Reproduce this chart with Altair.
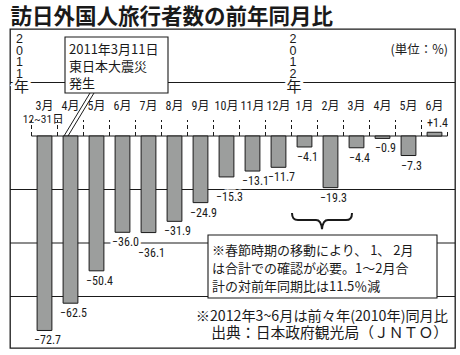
import altair as alt
import pandas as pd

# ---------------- data ----------------
title_text = "訪日外国人旅行者数の前年同月比"
months = ["3月", "4月", "5月", "6月", "7月", "8月", "9月", "10月", "11月", "12月",
          "1月", "2月", "3月", "4月", "5月", "6月"]
values = [-72.7, -62.5, -50.4, -36.0, -36.1, -31.9, -24.9, -15.3, -13.1, -11.7,
          -4.1, -19.3, -4.4, -0.9, -7.3, 1.4]
first_note = "12~31日"
grid_levels = [20, -20, -40, -60]
year_2011 = ["2", "0", "1", "1"]
year_2012 = ["2", "0", "1", "2"]
year_char = "年"
unit_text = "(単位：%)"
quake_lines = ["2011年3月11日", "東日本大震災", "発生"]
spring_lines = ["※春節時期の移動により、 1、 2月",
                "は合計での確認が必要。1〜2月合",
                "計の対前年同期比は11.5％減"]
foot_note = "※2012年3~6月は前々年(2010年)同月比"
source_note = "出典：日本政府観光局（ＪＮＴＯ）"

# ---------------- style ----------------
INK = "#1a1a1a"
BAR = "#9c9e9d"
CJK = "Noto Sans CJK JP"
NUM = "Liberation Sans Narrow, Roboto Condensed, Liberation Sans, Noto Sans CJK JP"
SANS = "Liberation Sans, Arial, sans-serif"
W, H = 445, 319
STEP = 26.0
X0 = 34.5
xs = alt.Scale(domain=[-X0 / STEP, (W - X0) / STEP], nice=False, zero=False)
ys = alt.Scale(domain=[-79.25, 40.0], nice=False, zero=False)
HALF = 7.4 / STEP
FAR_IDX = [4, 7]          # labels pushed further below their bars
BRACE_PATH = ("M-1,-0.27 Q-1,-0.03 -0.8,-0.03 L-0.2,-0.03 Q-0.03,-0.03 0,0.27 "
              "Q0.03,-0.03 0.2,-0.03 L0.8,-0.03 Q1,-0.03 1,-0.27")

def lab(v):
    return ("+%.1f" % v) if v > 0 else ("−%.1f" % abs(v))

df = pd.DataFrame({"i": list(range(len(months))), "month": months, "value": values})
df["label"] = [lab(v) for v in values]
df["grp"] = ["pos" if v > 0 else ("far" if i in FAR_IDX else "neg")
             for i, v in enumerate(values)]
grid_df = pd.DataFrame({"g": grid_levels})
sep_df = pd.DataFrame({"s": [k - 0.5 for k in range(len(months) + 1)]})
one = pd.DataFrame({"k": [0]})

X = lambda f, t="Q": alt.X(f"{f}:{t}", scale=xs, axis=None)
Y = lambda f, t="Q": alt.Y(f"{f}:{t}", scale=ys, axis=None)

grid = alt.Chart(grid_df).mark_rule(color=INK, strokeWidth=1.1).encode(y=Y("g"))

zero = alt.Chart(one).mark_rule(color=INK, strokeWidth=1.1).encode(
    x=alt.X(datum=-0.5, scale=xs, axis=None), x2=alt.X2(datum=len(months) - 0.5),
    y=alt.Y(datum=0, scale=ys, axis=None))

seps = alt.Chart(sep_df).mark_rule(color=INK, strokeWidth=1, strokeDash=[4, 3]).encode(
    x=X("s"), y=alt.Y(datum=0, scale=ys, axis=None), y2=alt.value(91))

bars = alt.Chart(df).transform_calculate(
    x1=f"datum.i - {HALF}", x2=f"datum.i + {HALF}"
).mark_bar(color=BAR, stroke=INK, strokeWidth=1).encode(
    x=X("x1"), x2="x2:Q", y=Y("value"), y2=alt.Y2(datum=0))

def labels(grp, dy):
    base = alt.Chart(df).transform_filter(f"datum.grp == '{grp}'")
    enc = dict(x=X("i"), y=Y("value"), text="label:N")
    halo = base.mark_text(font=NUM, fontSize=12, dx=3, dy=dy, baseline="middle",
                          stroke="white", strokeWidth=5, fill="white").encode(**enc)
    txt = base.mark_text(font=NUM, fontSize=12, dx=3, dy=dy, baseline="middle",
                         color=INK).encode(**enc)
    return [halo, txt]

val_layers = labels("neg", 10) + labels("far", 20) + labels("pos", -9)

month_txt = alt.Chart(df).mark_text(font=NUM, fontSize=12, baseline="middle",
                                    color=INK).encode(
    x=X("i"), y=alt.value(77), text="month:N")

first_txt = alt.Chart(one).mark_text(font=NUM, fontSize=11.5, baseline="middle",
                                     color=INK, text=first_note).encode(
    x=alt.X(datum=-0.05, scale=xs, axis=None), y=alt.value(91))

def year_block(xenc, digits, dxd, dxc):
    lay = []
    for stroke in (True, False):
        kw = dict(stroke="white", strokeWidth=6, fill="white") if stroke else dict(color=INK)
        lay.append(alt.Chart(one).mark_text(font=SANS, fontSize=12.5, baseline="alphabetic",
                                            lineHeight=11.6, dx=dxd, text=digits, **kw).encode(
            x=xenc, y=alt.value(14)))
        lay.append(alt.Chart(one).mark_text(font=CJK, fontSize=15, baseline="alphabetic",
                                            dx=dxc, text=year_char, **kw).encode(
            x=xenc, y=alt.value(62.5)))
    return lay

years = (year_block(alt.value(9.5), year_2011, 0, 2)
         + year_block(alt.X(datum=9.5, scale=xs, axis=None), year_2012, 1.5, 2.5))

unit = alt.Chart(one).mark_text(font=CJK, fontSize=12.5, align="right", color=INK,
                                text=unit_text).encode(x=alt.value(438), y=alt.value(21))

box1 = alt.Chart(one).mark_rect(fill="white", stroke=INK, strokeWidth=1.1).encode(
    x=alt.value(55), x2=alt.value(158), y=alt.value(8), y2=alt.value(64))
box1_txt = alt.Chart(one).mark_text(font=CJK, fontSize=13, align="left",
                                    baseline="alphabetic", lineHeight=17,
                                    color=INK, text=quake_lines).encode(
    x=alt.value(59), y=alt.value(25))
ptr_a = alt.Chart(one).mark_rule(color=INK, strokeWidth=1).encode(
    x=alt.value(80), x2=alt.value(54), y=alt.value(64), y2=alt.value(107))
ptr_b = alt.Chart(one).mark_rule(color=INK, strokeWidth=1).encode(
    x=alt.value(84), x2=alt.value(58), y=alt.value(64), y2=alt.value(107))

box2 = alt.Chart(one).mark_rect(fill="white", stroke=INK, strokeWidth=1.1).encode(
    x=alt.value(198), x2=alt.value(427), y=alt.value(206), y2=alt.value(269))
box2_txt = alt.Chart(one).mark_text(font=CJK, fontSize=13, align="left",
                                    baseline="alphabetic", lineHeight=18,
                                    color=INK, text=spring_lines).encode(
    x=alt.value(202), y=alt.value(226))

brace = alt.Chart(one).mark_point(shape=BRACE_PATH, size=3600, filled=False,
                                  stroke=INK, strokeWidth=2, opacity=1).encode(
    x=alt.value(312), y=alt.value(192))

foot1 = alt.Chart(one).mark_text(font=CJK, fontSize=14.2, align="right",
                                 baseline="alphabetic", color=INK, text=foot_note).encode(
    x=alt.value(438), y=alt.value(292))
foot2 = alt.Chart(one).mark_text(font=CJK, fontSize=14.8, align="right",
                                 baseline="alphabetic", color=INK, text=source_note).encode(
    x=alt.value(438), y=alt.value(308.5))

chart = alt.layer(
    grid, zero, seps, bars, *val_layers, month_txt, first_txt, *years, unit,
    box1, box1_txt, ptr_a, ptr_b, box2, box2_txt, brace, foot1, foot2
).properties(
    width=W, height=H,
    autosize=alt.AutoSizeParams(type="none"),
    padding={"left": 10, "top": 29, "right": 5, "bottom": 7},
    title=alt.TitleParams(title_text, anchor="start", font=CJK, fontSize=21.5,
                          fontWeight="bold", color=INK, offset=1, dx=1),
).configure_view(stroke=INK, strokeWidth=1.3)

chart.save("out.html", embed_options={"renderer": "svg", "actions": False})
